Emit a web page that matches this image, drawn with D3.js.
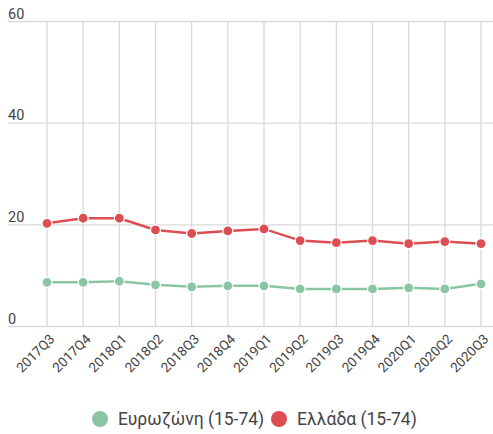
<!DOCTYPE html>
<html>
<head>
<meta charset="utf-8">
<script src="https://cdn.jsdelivr.net/npm/d3@7"></script>
<style>
  html, body { margin: 0; padding: 0; background: #fff; }
  svg { display: block; font-family: Roboto, "Noto Sans", sans-serif; }
</style>
</head>
<body>
<svg id="chart" width="493" height="434"></svg>
<script>
// Quarterly unemployment rate (%), ages 15-74
const quarters = ["2017Q3","2017Q4","2018Q1","2018Q2","2018Q3","2018Q4","2019Q1",
                  "2019Q2","2019Q3","2019Q4","2020Q1","2020Q2","2020Q3"];
const euroArea = [8.7, 8.7, 8.9, 8.2, 7.8, 8.0, 8.0, 7.4, 7.4, 7.4, 7.6, 7.4, 8.4];
const greece   = [20.3, 21.3, 21.3, 19.0, 18.3, 18.8, 19.2, 16.9, 16.5, 16.9, 16.3, 16.7, 16.3];
const yTicks = [0, 20, 40, 60];
const seriesNames = ["Ευρωζώνη (15-74)", "Ελλάδα (15-74)"];
const seriesColors = ["#8ac6a4", "#dd4e52"];

(function () {
  const svg = d3.select("#chart");
  const plotLeft = 8, plotRight = 493, plotTop = 21.5, plotBottom = 326.5;

  const x = d3.scalePoint().domain(quarters).range([47, 481]);
  const y = d3.scaleLinear().domain([0, 60]).range([plotBottom, plotTop]);

  // horizontal grid + labels
  const yAxis = svg.append("g");
  yAxis.selectAll("line").data(yTicks).join("line")
    .attr("x1", plotLeft).attr("x2", plotRight)
    .attr("y1", d => y(d)).attr("y2", d => y(d))
    .attr("stroke", "#d9d9d9").attr("stroke-width", 1.3);
  yAxis.selectAll("text").data(yTicks).join("text")
    .attr("x", plotLeft).attr("y", d => y(d) - 3)
    .attr("font-size", 14.5).attr("fill", "#444")
    .text(d => d);

  // vertical grid
  svg.append("g").selectAll("line").data(quarters).join("line")
    .attr("x1", d => x(d)).attr("x2", d => x(d))
    .attr("y1", plotTop).attr("y2", plotBottom)
    .attr("stroke", "#d9d9d9").attr("stroke-width", 1.3);

  // rotated category labels
  svg.append("g").selectAll("text").data(quarters).join("text")
    .attr("transform", d => `translate(${x(d) + 5},${plotBottom + 10}) rotate(-45)`)
    .attr("text-anchor", "end")
    .attr("dy", "0.35em")
    .attr("font-size", 13.5).attr("fill", "#444")
    .text(d => d);

  // series lines and markers
  const line = d3.line().x((d, i) => x(quarters[i])).y(d => y(d));
  [euroArea, greece].forEach((vals, k) => {
    const g = svg.append("g");
    g.append("path").datum(vals)
      .attr("d", line).attr("fill", "none")
      .attr("stroke", seriesColors[k]).attr("stroke-width", 2.5);
    g.selectAll("circle").data(vals).join("circle")
      .attr("cx", (d, i) => x(quarters[i])).attr("cy", d => y(d))
      .attr("r", 5).attr("fill", seriesColors[k])
      .attr("stroke", "#fff").attr("stroke-width", 1.2);
  });

  // legend
  const legend = svg.append("g");
  const items = [{ cx: 100, tx: 118 }, { cx: 279, tx: 297 }];
  seriesNames.forEach((name, k) => {
    legend.append("circle").attr("cx", items[k].cx).attr("cy", 419).attr("r", 8)
      .attr("fill", seriesColors[k]);
    legend.append("text").attr("x", items[k].tx).attr("y", 419).attr("dy", "0.35em")
      .attr("font-size", 17.5).attr("fill", "#444").text(name);
  });
})();
</script>
</body>
</html>
